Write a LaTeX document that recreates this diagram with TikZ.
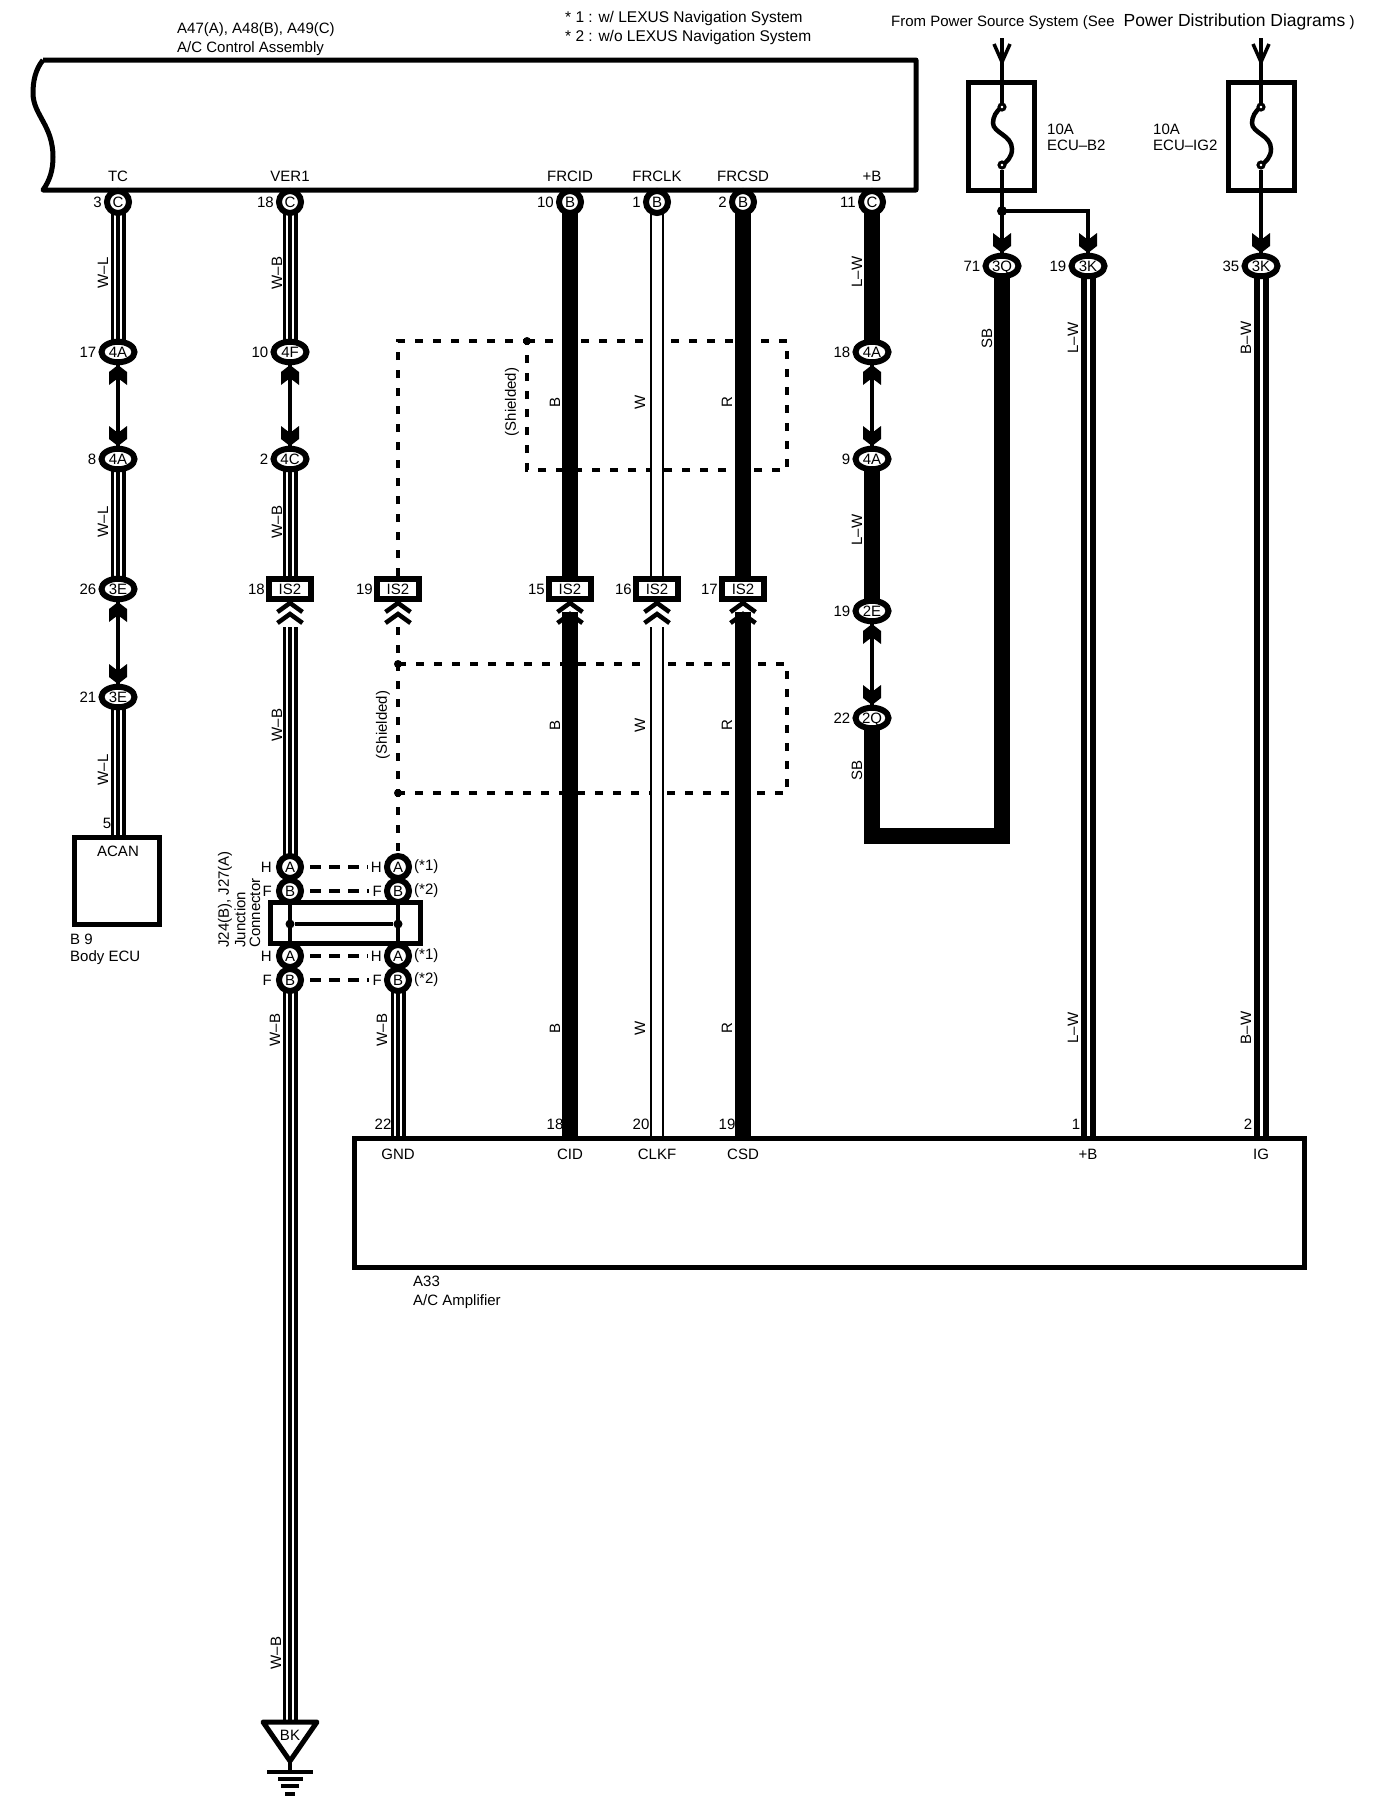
\documentclass[tikz,border=0pt]{standalone}
\usepackage{fontspec}
\setmainfont{Liberation Sans}
\usetikzlibrary{backgrounds,shapes.geometric}
\tikzset{
	oval/.style={draw,ellipse,fill=white,line width=6,inner sep=0pt,text height=10.8pt,text depth=0pt,minimum width=33,minimum height=20.5},
	pinc/.style={draw,circle,fill=white,line width=6,inner sep=0pt,text height=10.8pt,text depth=0pt,minimum size=22},
	isbox/.style={draw,rectangle,fill=white,line width=6,inner sep=0pt,text height=10.8pt,text depth=0pt,minimum width=42,minimum height=20},
	ebox/.style={draw,rectangle,line width=5,inner sep=0pt},
	txt/.style={inner sep=0pt,anchor=west},
	rtxt/.style={inner sep=0pt,rotate=90},
	ctxt/.style={inner sep=0pt},
	every label/.style={inner sep=0pt,font=\fontsize{15}{17}\selectfont},
	label distance=2pt,
	wirewb/.style={line width=15,postaction={draw,white,line width=8.5},postaction={draw,black,line width=3.5}},
	wirew/.style={line width=14,postaction={draw,white,line width=10}},
	wirelw/.style={line width=15,postaction={draw,white,line width=3}},
	wireblk/.style={line width=16.5},
	thin wire/.style={line width=3.5},
	shield/.style={line width=3.2,dash pattern=on 8pt off 10pt},
	jumper/.style={line width=3.5,dash pattern=on 11pt off 8pt,shorten <=6pt,shorten >=3pt},
	tipup/.pic={\fill (0,0)--(9,7)--(9,20)--(2.5,15)--(-2.5,15)--(-9,20)--(-9,7)--cycle;},
	tipdown/.pic={\fill (0,0)--(9,-7)--(9,-20)--(2.5,-15)--(-2.5,-15)--(-9,-20)--(-9,-7)--cycle;},
	chevs/.pic={\draw[line width=4.5] (-12.5,12)--(0,3)--(12.5,12) (-12.5,23)--(0,14)--(12.5,23);},
	fusewave/.pic={\draw[line width=4.5] (0,0) .. controls (-6,4) and (-9,10) .. (-9,16) .. controls (-9,26) and (10,28) .. (10,42) .. controls (10,50) and (5,55) .. (0,58);}
}
\begin{document}
\begin{tikzpicture}[x=1pt,y=-1pt,font=\fontsize{15}{17}\selectfont]
	\useasboundingbox (0,0) rectangle (1392,1820);
	\begin{scope}[on background layer]
		\fill[white] (0,0) rectangle (1392,1820);
	\end{scope}

	% top texts
	\node (ttlA)[txt] at (177,29.5) {A47(A), A48(B), A49(C)};
	\node (ttlB)[txt] at (177,48.5) {A/C Control Assembly};
	\node (noteA)[txt,font=\fontsize{15.5}{17}\selectfont] at (565,18.5) {* 1 : w/ LEXUS Navigation System};
	\node (noteB)[txt,font=\fontsize{15.5}{17}\selectfont] at (565,37) {* 2 : w/o LEXUS Navigation System};
	\node (src)[txt] at (891,22) {From Power Source System (See\hspace{9pt}{\fontsize{17.5}{17}\selectfont Power Distribution Diagrams} )};

	% control assembly
	\draw[line width=5,line join=round] (43,60)--(916,60)--(916,190)--(43,190)
	.. controls (50,180) and (53,170) .. (53,157)
	.. controls (53,125) and (33,115) .. (33,93)
	.. controls (33,82) and (35,70) .. (43,60);
	\node (tTC)[ctxt] at (118,176) {TC};
	\node (tVER)[ctxt] at (290,176) {VER1};
	\node (tCID)[ctxt] at (570,176) {FRCID};
	\node (tCLK)[ctxt] at (657,176) {FRCLK};
	\node (tCSD)[ctxt] at (743,176) {FRCSD};
	\node (tB)[ctxt] at (872,176) {+B};

	% connectors under the assembly
	\node (c3)[pinc,label=left:{3}] at (118,202) {C};
	\node (c18)[pinc,label=left:{18}] at (290,202) {C};
	\node (c10)[pinc,label=left:{10}] at (570,202) {B};
	\node (c1)[pinc,label=left:{1}] at (657,202) {B};
	\node (c2)[pinc,label=left:{2}] at (743,202) {B};
	\node (c11)[pinc,label=left:{11}] at (872,202) {C};

	% TC line
	\node (a17)[oval,label=left:{17}] at (118,352) {4A};
	\node (a8)[oval,label=left:{8}] at (118,459) {4A};
	\node (e26)[oval,label=left:{26}] at (118,589) {3E};
	\node (e21)[oval,label=left:{21}] at (118,697) {3E};
	\node (acan)[ebox,minimum width=85,minimum height=87] at (117,880.5) {};
	\coordinate (acanT) at (118,837);
	\node (tACAN)[ctxt] at (118,851) {ACAN};
	\node (pin5)[ctxt] at (107,823) {5};
	\node (bnine)[txt] at (70,939) {B 9};
	\node (bodyecu)[txt] at (70,958) {Body ECU};

	% VER1 line
	\node (f10)[oval,label=left:{10}] at (290,352) {4F};
	\node (c2b)[oval,label=left:{2}] at (290,459) {4C};
	\node (is18)[isbox,label={[label distance=1pt]left:{18}}] at (290,589) {IS2};
	\coordinate (is18b) at (290,627);
	\node (jA1)[pinc,label={[label distance=4pt]left:{H}}] at (290,867) {A};
	\node (jB1)[pinc,label={[label distance=4pt]left:{F}}] at (290,891) {B};
	\node (jA2)[pinc,label={[label distance=4pt]left:{H}}] at (290,956) {A};
	\node (jB2)[pinc,label={[label distance=4pt]left:{F}}] at (290,980) {B};
	\node (kA1)[pinc,label={[name=hA1,label distance=2pt]left:{H}},label={[label distance=2pt]right:{(*1)}}] at (398,867) {A};
	\node (kB1)[pinc,label={[name=hB1,label distance=2pt]left:{F}},label={[label distance=2pt]right:{(*2)}}] at (398,891) {B};
	\node (kA2)[pinc,label={[name=hA2,label distance=2pt]left:{H}},label={[label distance=2pt]right:{(*1)}}] at (398,956) {A};
	\node (kB2)[pinc,label={[name=hB2,label distance=2pt]left:{F}},label={[label distance=2pt]right:{(*2)}}] at (398,980) {B};
	\node (jbox)[ebox,minimum width=150,minimum height=41.5] at (345,923) {};
	\node (jL)[circle,fill,inner sep=0pt,minimum size=9] at (290,924) {};
	\node (jR)[circle,fill,inner sep=0pt,minimum size=9] at (398,924) {};
	\node (tJa)[inner sep=0pt,anchor=west,rotate=90] at (225,948) {J24(B), J27(A)};
	\node (tJb)[inner sep=0pt,anchor=west,rotate=90] at (240,948) {Junction};
	\node (tJc)[inner sep=0pt,anchor=west,rotate=90] at (255,948) {Connector};
	\coordinate (gndT) at (290,1722);

	% ground
	\node (tBK)[ctxt] at (290,1735) {BK};
	\draw[line width=5,line join=round] (263,1722)--(317,1722)--(290,1761)--cycle;
	\draw[line width=4] (290,1761)--(290,1772);
	\draw[line width=4] (267,1772)--(313,1772);
	\draw[line width=4] (278,1779)--(303,1779);
	\draw[line width=4] (281,1786)--(299,1786);
	\draw[line width=4] (285,1794)--(295,1794);

	% shield line
	\node (is19)[isbox,label={[label distance=1pt]left:{19}}] at (398,589) {IS2};
	\coordinate (is19b) at (398,627);
	\coordinate (shA) at (398,341);
	\coordinate (shB) at (527,341);
	\coordinate (shC) at (398,664);
	\coordinate (shD) at (398,793);
	\node (shAd)[circle,fill,inner sep=0pt,minimum size=8] at (527,341) {};
	\node (shCd)[circle,fill,inner sep=0pt,minimum size=8] at (398,664) {};
	\node (shDd)[circle,fill,inner sep=0pt,minimum size=8] at (398,793) {};

	% FR lines
	\node (is15)[isbox,label={[label distance=1pt]left:{15}}] at (570,589) {IS2};
	\node (is16)[isbox,label={[label distance=1pt]left:{16}}] at (657,589) {IS2};
	\node (is17)[isbox,label={[label distance=1pt]left:{17}}] at (743,589) {IS2};
	\coordinate (is15b) at (570,612);
	\coordinate (is16b) at (657,627);
	\coordinate (is17b) at (743,612);

	% amplifier
	\node (amp)[ebox,minimum width=950,minimum height=129] at (829.5,1202.5) {};
	\coordinate (ampG) at (398,1138);
	\coordinate (ampD) at (570,1138);
	\coordinate (ampC) at (657,1138);
	\coordinate (ampS) at (743,1138);
	\coordinate (ampB) at (1088,1138);
	\coordinate (ampI) at (1261,1138);
	\node (tGND)[ctxt] at (398,1154) {GND};
	\node (tCIDb)[ctxt] at (570,1154) {CID};
	\node (tCLKF)[ctxt] at (657,1154) {CLKF};
	\node (tCSDb)[ctxt] at (743,1154) {CSD};
	\node (tBb)[ctxt] at (1088,1154) {+B};
	\node (tIG)[ctxt] at (1261,1154) {IG};
	\node (tA33)[txt] at (413,1281) {A33};
	\node (tAmp)[txt] at (413,1302) {A/C Amplifier};
	\node (p22)[ctxt] at (383,1124) {22};
	\node (p18)[ctxt] at (555,1124) {18};
	\node (p20)[ctxt] at (641,1124) {20};
	\node (p19)[ctxt] at (727,1124) {19};
	\node (p1)[ctxt] at (1076,1124) {1};
	\node (p2)[ctxt] at (1248,1124) {2};

	% +B line
	\node (a18)[oval,label=left:{18}] at (872,352) {4A};
	\node (a9)[oval,label=left:{9}] at (872,459) {4A};
	\node (e19)[oval,label=left:{19}] at (872,611) {2E};
	\node (q22)[oval,label=left:{22}] at (872,718) {2Q};
	\node (q71)[oval,label=left:{71}] at (1002,266) {3Q};
	\node (k19)[oval,label=left:{19}] at (1088,266) {3K};
	\node (k35)[oval,label=left:{35}] at (1261,266) {3K};

	% fuses
	\coordinate (srcL) at (1002,38);
	\coordinate (srcR) at (1261,38);
	\node (fuseL)[ebox,minimum width=66,minimum height=108,line width=5.5] at (1001.5,136.5) {};
	\node (fuseR)[ebox,minimum width=66,minimum height=108,line width=5.5] at (1261.5,136.5) {};
	\pic at (1002,107) {fusewave};
	\pic at (1261,107) {fusewave};
	\node (fLa)[circle,draw,fill=white,line width=3,inner sep=0pt,minimum size=6] at (1002,107) {};
	\node (fLb)[circle,draw,fill=white,line width=3,inner sep=0pt,minimum size=6] at (1002,165) {};
	\node (fRa)[circle,draw,fill=white,line width=3,inner sep=0pt,minimum size=6] at (1261,107) {};
	\node (fRb)[circle,draw,fill=white,line width=3,inner sep=0pt,minimum size=6] at (1261,165) {};
	\node (jn)[circle,fill,inner sep=0pt,minimum size=10] at (1002,211) {};
	\node (tA10)[txt] at (1047,129) {10A};
	\node (tB2)[txt] at (1047,145) {ECU--B2};
	\node (tB10)[txt] at (1153,129) {10A};
	\node (tIG2)[txt] at (1153,145) {ECU--IG2};

	% wires behind the connectors
	\begin{scope}[on background layer]
		\draw[wirewb] (c3.center)--(a17.center);
		\draw[thin wire] (a17)--(a8);
		\draw[wirewb] (a8.center)--(e26.center);
		\draw[thin wire] (e26)--(e21);
		\draw[wirewb] (e21.center)--(acanT);

		\draw[wirewb] (c18.center)--(f10.center);
		\draw[thin wire] (f10)--(c2b);
		\draw[wirewb] (c2b.center)--(is18.center);
		\draw[wirewb] (is18b)--(jA1.center);
		\draw[wirewb] (jB2.center)--(gndT);
		\draw[wirewb] (kB2.center)--(ampG);
		\draw[thin wire] (jB1)--(jA2);
		\draw[thin wire] (kB1)--(kA2);
		\draw[thin wire] (jL)--(jR);
		\draw[jumper] (jA1)--(hA1);
		\draw[jumper] (jB1)--(hB1);
		\draw[jumper] (jA2)--(hA2);
		\draw[jumper] (jB2)--(hB2);

		\draw[shield] (is19)--(shA)--(shB);
		\draw[shield] (shB)--(787,341)--(787,470)--(527,470)--(shB);
		\draw[shield] (is19b)--(kA1);
		\draw[shield] (shC)--(787,664)--(787,793)--(shD);

		\draw[wireblk] (c10.center)--(is15.center);
		\draw[wireblk] (is15b)--(ampD);
		\draw[wirew] (c1.center)--(is16.center);
		\draw[wirew] (is16b)--(ampC);
		\draw[wireblk] (c2.center)--(is17.center);
		\draw[wireblk] (is17b)--(ampS);

		\draw[wireblk] (c11.center)--(a18.center);
		\draw[thin wire] (a18)--(a9);
		\draw[wireblk] (a9.center)--(e19.center);
		\draw[thin wire] (e19)--(q22);
		\draw[wireblk,line join=miter] (q22.center)--(872,836)--(1002,836)--(q71.center);

		\draw[thin wire] (srcL)--(fLa);
		\draw[thin wire] (fLb)--(q71);
		\draw[thin wire] (jn.center)--(1088,211)--(k19);
		\draw[thin wire] (srcR)--(fRa);
		\draw[thin wire] (fRb)--(k35);
		\draw[wirelw] (k19.center)--(ampB);
		\draw[wirelw] (k35.center)--(ampI);
	\end{scope}

	% tips
	\pic at (118,365) {tipup};
	\pic at (118,446) {tipdown};
	\pic at (118,602) {tipup};
	\pic at (118,684) {tipdown};
	\pic at (290,365) {tipup};
	\pic at (290,446) {tipdown};
	\pic at (872,365) {tipup};
	\pic at (872,446) {tipdown};
	\pic at (872,624) {tipup};
	\pic at (872,705) {tipdown};
	\pic at (1002,253) {tipdown};
	\pic at (1088,253) {tipdown};
	\pic at (1261,253) {tipdown};
	\pic at (290,600) {chevs};
	\pic at (398,600) {chevs};
	\pic at (570,600) {chevs};
	\pic at (657,600) {chevs};
	\pic at (743,600) {chevs};
	\draw[line width=3.5] (994,44)--(1002,62)--(1010,44);
	\draw[line width=3.5] (1253,44)--(1261,62)--(1269,44);

	% wire colour labels
	\node (lA)[rtxt] at (103,273) {W--L};
	\node (lB)[rtxt] at (103,522) {W--L};
	\node (lC)[rtxt] at (103,770) {W--L};
	\node (lD)[rtxt] at (277,273) {W--B};
	\node (lE)[rtxt] at (277,522) {W--B};
	\node (lF)[rtxt] at (277,725) {W--B};
	\node (lG)[rtxt] at (275,1030) {W--B};
	\node (lH)[rtxt] at (382,1030) {W--B};
	\node (lI)[rtxt] at (276,1653) {W--B};
	\node (sA)[rtxt] at (512,402) {(Shielded)};
	\node (sB)[rtxt] at (383,725) {(Shielded)};
	\node (b1)[rtxt] at (555,402) {B};
	\node (w1)[rtxt] at (640,402) {W};
	\node (r1)[rtxt] at (727,402) {R};
	\node (b2)[rtxt] at (555,725) {B};
	\node (w2)[rtxt] at (640,725) {W};
	\node (r2)[rtxt] at (727,725) {R};
	\node (b3)[rtxt] at (555,1028) {B};
	\node (w3)[rtxt] at (640,1028) {W};
	\node (r3)[rtxt] at (727,1028) {R};
	\node (lJ)[rtxt] at (857,272) {L--W};
	\node (lK)[rtxt] at (857,530) {L--W};
	\node (lL)[rtxt] at (857,770) {SB};
	\node (lM)[rtxt] at (987,338) {SB};
	\node (lN)[rtxt] at (1073,338) {L--W};
	\node (lO)[rtxt] at (1246,338) {B--W};
	\node (lP)[rtxt] at (1073,1028) {L--W};
	\node (lQ)[rtxt] at (1246,1028) {B--W};
\end{tikzpicture}
\end{document}
